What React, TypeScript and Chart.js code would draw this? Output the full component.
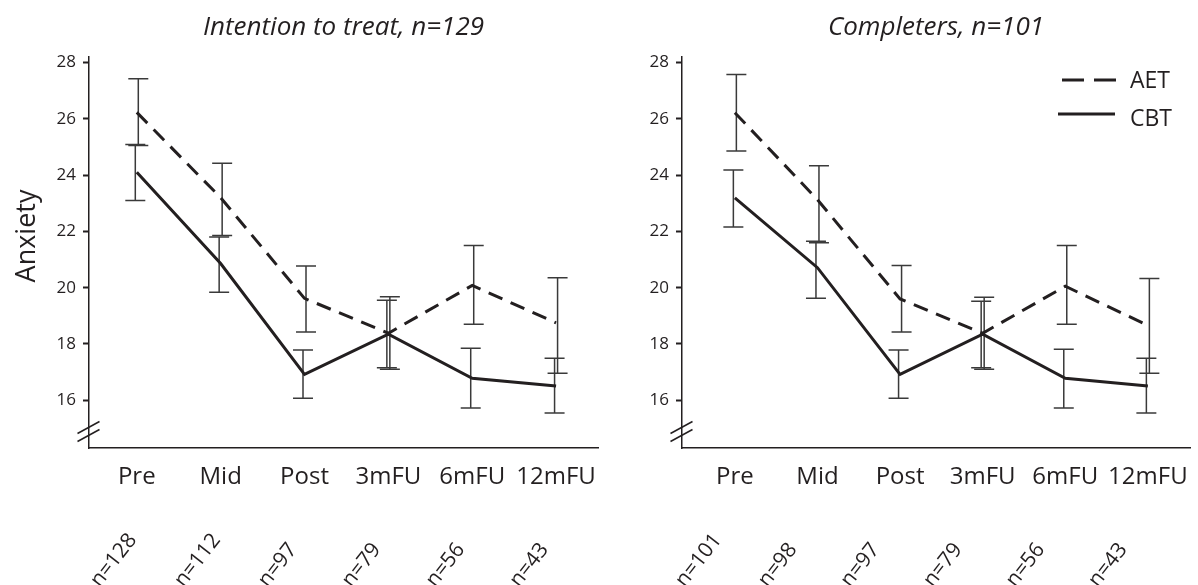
import { useEffect, useRef } from 'react';
import { Chart, registerables } from 'chart.js';

Chart.register(...registerables);

// ---------- data ----------
const CATEGORIES = ['Pre', 'Mid', 'Post', '3mFU', '6mFU', '12mFU'];
const Y_TICKS = [16, 18, 20, 22, 24, 26, 28];
const SERIES_NAMES = ['AET', 'CBT'];

const ITT_TITLE = 'Intention to treat, n=129';
const ITT_COUNTS = ['n=128', 'n=112', 'n=97', 'n=79', 'n=56', 'n=43'];
const ITT_AET_MEAN = [26.23, 23.2, 19.62, 18.38, 20.08, 18.75];
const ITT_AET_LOW = [25.05, 21.85, 18.42, 17.1, 18.7, 16.96];
const ITT_AET_HIGH = [27.43, 24.42, 20.77, 19.68, 21.5, 20.35];
const ITT_CBT_MEAN = [24.1, 20.86, 16.92, 18.35, 16.78, 16.5];
const ITT_CBT_LOW = [23.1, 19.84, 16.07, 17.15, 15.72, 15.54];
const ITT_CBT_HIGH = [25.09, 21.8, 17.78, 19.55, 17.85, 17.49];

const COMP_TITLE = 'Completers, n=101';
const COMP_COUNTS = ['n=101', 'n=98', 'n=97', 'n=79', 'n=56', 'n=43'];
const COMP_AET_MEAN = [26.22, 23.13, 19.6, 18.38, 20.05, 18.66];
const COMP_AET_LOW = [24.86, 21.6, 18.42, 17.1, 18.7, 16.96];
const COMP_AET_HIGH = [27.58, 24.33, 20.79, 19.66, 21.5, 20.33];
const COMP_CBT_MEAN = [23.19, 20.71, 16.92, 18.35, 16.78, 16.5];
const COMP_CBT_LOW = [22.16, 19.62, 16.07, 17.15, 15.72, 15.54];
const COMP_CBT_HIGH = [24.18, 21.65, 17.78, 19.52, 17.81, 17.49];

const Y_LABEL = 'Anxiety';

// ---------- style ----------
const INK = '#231f20';
const BAR_INK = '#3a3a3a';
const FONT = "'Open Sans', sans-serif";
const H = 585;

type Panel = {
  title: string;
  counts: string[];
  aet: [number[], number[], number[]];
  cbt: [number[], number[], number[]];
  width: number;
  yWidth: number;
  padRight: number;
  xMin: number;
  xMax: number;
  countShift: number;
  showYTitle: boolean;
  showLegend: boolean;
};

const LEFT_PANEL: Panel = {
  title: ITT_TITLE,
  counts: ITT_COUNTS,
  aet: [ITT_AET_MEAN, ITT_AET_LOW, ITT_AET_HIGH],
  cbt: [ITT_CBT_MEAN, ITT_CBT_LOW, ITT_CBT_HIGH],
  width: 600,
  yWidth: 89,
  padRight: 2,
  xMin: -0.57,
  xMax: 5.5,
  countShift: -9,
  showYTitle: true,
  showLegend: false,
};

const RIGHT_PANEL: Panel = {
  title: COMP_TITLE,
  counts: COMP_COUNTS,
  aet: [COMP_AET_MEAN, COMP_AET_LOW, COMP_AET_HIGH],
  cbt: [COMP_CBT_MEAN, COMP_CBT_LOW, COMP_CBT_HIGH],
  width: 598,
  yWidth: 82,
  padRight: 8,
  xMin: -0.64,
  xMax: 5.51,
  countShift: -22,
  showYTitle: false,
  showLegend: true,
};

function makeChart(canvas: HTMLCanvasElement, p: Panel) {
  const decor = {
    id: 'decor',
    beforeDatasetsDraw(chart: any) {
      const ctx = chart.ctx;
      const xs = chart.scales.x;
      const ys = chart.scales.y;
      ctx.save();
      ctx.strokeStyle = BAR_INK;
      ctx.lineWidth = 1.5;
      chart.data.datasets.forEach((ds: any, di: number) => {
        const off = di === 0 ? 1.5 : -1.5;
        ds.data.forEach((pt: any, i: number) => {
          const x = xs.getPixelForValue(pt.x) + off;
          const yl = ys.getPixelForValue(ds.errLow[i]);
          const yh = ys.getPixelForValue(ds.errHigh[i]);
          ctx.beginPath();
          ctx.moveTo(x, yl);
          ctx.lineTo(x, yh);
          ctx.moveTo(x - 10, yl);
          ctx.lineTo(x + 10, yl);
          ctx.moveTo(x - 10, yh);
          ctx.lineTo(x + 10, yh);
          ctx.stroke();
        });
      });
      ctx.restore();
    },
    afterDraw(chart: any) {
      const ctx = chart.ctx;
      const area = chart.chartArea;
      const xs = chart.scales.x;
      ctx.save();
      ctx.fillStyle = INK;
      ctx.strokeStyle = INK;

      // title
      ctx.font = `italic 26px ${FONT}`;
      ctx.textAlign = 'center';
      ctx.textBaseline = 'alphabetic';
      ctx.fillText(p.title, (area.left + area.right) / 2, 35);

      // y axis title
      if (p.showYTitle) {
        ctx.save();
        ctx.font = `27px ${FONT}`;
        ctx.translate(35, 236);
        ctx.rotate(-Math.PI / 2);
        ctx.textAlign = 'center';
        ctx.fillText(Y_LABEL, 0, 0);
        ctx.restore();
      }

      // axis break marks
      ctx.lineWidth = 1.5;
      [-20.5, -12.5].forEach((dy) => {
        const cx = area.left - 0.5;
        const cy = area.bottom + dy;
        ctx.beginPath();
        ctx.moveTo(cx - 11, cy + 6);
        ctx.lineTo(cx + 11, cy - 6);
        ctx.stroke();
      });

      // sample sizes
      ctx.font = `21px ${FONT}`;
      ctx.textAlign = 'left';
      ctx.textBaseline = 'alphabetic';
      p.counts.forEach((label, i) => {
        const x = xs.getPixelForValue(i) + p.countShift;
        ctx.save();
        ctx.translate(x - 28, 588);
        ctx.rotate((-52 * Math.PI) / 180);
        ctx.fillText(label, 0, 0);
        ctx.restore();
      });

      // legend
      if (p.showLegend) {
        const r = area.right;
        ctx.lineWidth = 3;
        ctx.setLineDash([22, 10]);
        ctx.beginPath();
        ctx.moveTo(r - 128, 80);
        ctx.lineTo(r - 74, 80);
        ctx.stroke();
        ctx.setLineDash([]);
        ctx.beginPath();
        ctx.moveTo(r - 132, 114);
        ctx.lineTo(r - 75, 114);
        ctx.stroke();
        ctx.font = `23px ${FONT}`;
        ctx.textAlign = 'left';
        ctx.fillText(SERIES_NAMES[0], r - 60, 88);
        ctx.fillText(SERIES_NAMES[1], r - 60, 126);
      }
      ctx.restore();
    },
  };

  const mk = (arr: number[]) => arr.map((v, i) => ({ x: i, y: v }));

  return new Chart(canvas, {
    type: 'line',
    data: {
      datasets: [
        {
          label: SERIES_NAMES[0],
          data: mk(p.aet[0]),
          errLow: p.aet[1],
          errHigh: p.aet[2],
          borderColor: INK,
          borderWidth: 3,
          borderDash: [15, 9],
          pointRadius: 0,
          tension: 0,
          fill: false,
        } as any,
        {
          label: SERIES_NAMES[1],
          data: mk(p.cbt[0]),
          errLow: p.cbt[1],
          errHigh: p.cbt[2],
          borderColor: INK,
          borderWidth: 3,
          pointRadius: 0,
          tension: 0,
          fill: false,
        } as any,
      ],
    },
    options: {
      responsive: false,
      animation: false,
      layout: { padding: { left: 0, top: 57, right: p.padRight, bottom: 0 } },
      plugins: {
        legend: { display: false },
        tooltip: { enabled: false },
        title: { display: false },
      },
      scales: {
        x: {
          type: 'linear',
          min: p.xMin,
          max: p.xMax,
          afterBuildTicks: (a: any) => {
            a.ticks = CATEGORIES.map((_, i) => ({ value: i }));
          },
          afterFit: (a: any) => {
            a.height = H - 448;
            a.paddingLeft = 0;
            a.paddingRight = 0;
          },
          grid: { display: false, drawTicks: false },
          border: { display: true, color: INK, width: 1.5 },
          ticks: {
            callback: (v: any) => CATEGORIES[Math.round(Number(v))],
            font: { family: FONT, size: 24 },
            color: INK,
            padding: 15,
            maxRotation: 0,
            minRotation: 0,
            autoSkip: false,
          },
        },
        y: {
          type: 'linear',
          min: 14.3,
          max: 28.2,
          afterBuildTicks: (a: any) => {
            a.ticks = Y_TICKS.map((v) => ({ value: v }));
          },
          afterFit: (a: any) => {
            a.width = p.yWidth;
            a.paddingTop = 0;
            a.paddingBottom = 0;
          },
          grid: {
            display: true,
            drawOnChartArea: false,
            drawTicks: true,
            tickLength: 6,
            tickWidth: 2,
            tickColor: INK,
          },
          border: { display: true, color: INK, width: 1.5 },
          ticks: {
            font: { family: FONT, size: 17 },
            color: INK,
            padding: 7,
          },
        },
      },
    } as any,
    plugins: [decor],
  });
}

export default function App() {
  const leftRef = useRef<HTMLCanvasElement>(null);
  const rightRef = useRef<HTMLCanvasElement>(null);

  useEffect(() => {
    document.body.style.margin = '0';
    const a = makeChart(leftRef.current as HTMLCanvasElement, LEFT_PANEL);
    const b = makeChart(rightRef.current as HTMLCanvasElement, RIGHT_PANEL);
    return () => {
      a.destroy();
      b.destroy();
    };
  }, []);

  return (
    <div style={{ position: 'relative', width: 1198, height: H, background: '#fff' }}>
      <canvas
        ref={leftRef}
        width={LEFT_PANEL.width}
        height={H}
        style={{ position: 'absolute', left: 0, top: 0 }}
      />
      <canvas
        ref={rightRef}
        width={RIGHT_PANEL.width}
        height={H}
        style={{ position: 'absolute', left: 600, top: 0 }}
      />
    </div>
  );
}
